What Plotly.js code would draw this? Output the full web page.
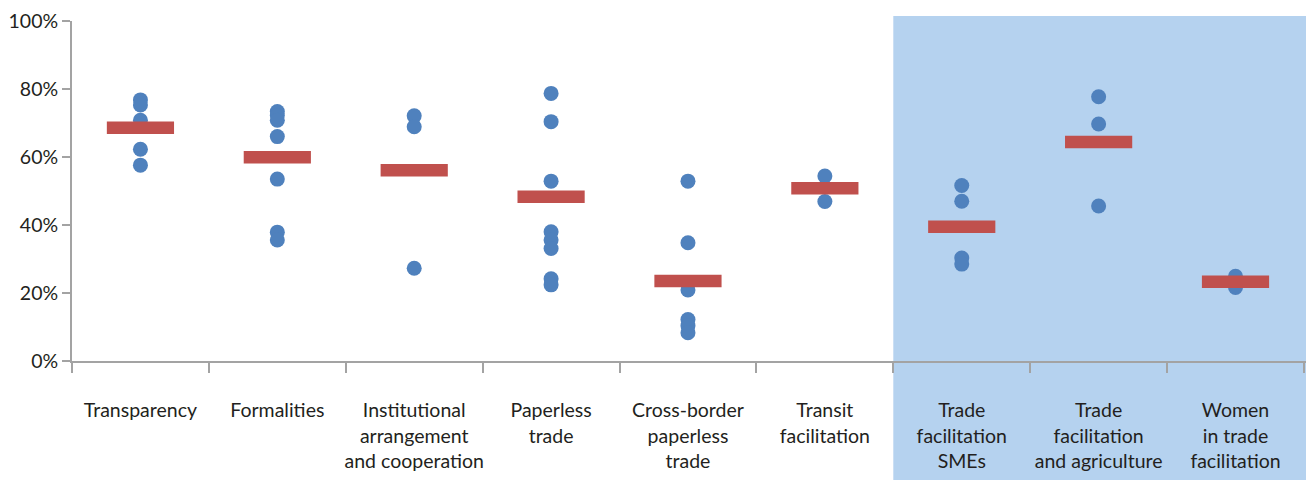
<!DOCTYPE html>
<html>
<head>
<meta charset="utf-8">
<script src="https://cdn.plot.ly/plotly-3.0.1.min.js"></script>
<style>html,body{margin:0;padding:0;background:#fff;}#chart{width:1306px;height:480px;}</style>
</head>
<body>
<div id="chart"></div>
<script>
// Category labels (tick labels)
var categories = [
  "Transparency",
  "Formalities",
  "Institutional<br>arrangement<br>and cooperation",
  "Paperless<br>trade",
  "Cross-border<br>paperless<br>trade",
  "Transit<br>facilitation",
  "Trade<br>facilitation<br>SMEs",
  "Trade<br>facilitation<br>and agriculture",
  "Women<br>in trade<br>facilitation"
];

// Y tick values and labels
var yTickValues = [0, 20, 40, 60, 80, 100];
var yTickLabels = ["0%", "20%", "40%", "60%", "80%", "100%"];

// Individual values (%) per category
var transparency   = [76.8, 75.3, 70.8, 62.3, 57.6];
var formalities    = [73.4, 72.2, 70.8, 66.0, 53.5, 37.9, 35.6];
var institutional  = [72.1, 68.9, 27.3];
var paperless      = [78.7, 70.4, 52.9, 38.0, 35.6, 33.1, 24.2, 22.4];
var crossBorder    = [52.9, 34.8, 20.9, 12.2, 10.4, 8.3];
var transit        = [54.4, 46.9];
var smes           = [51.6, 47.0, 30.3, 28.5];
var agriculture    = [77.7, 69.7, 45.6];
var women          = [24.9, 21.6];

// Average (%) per category (red bars)
var averages = [68.6, 59.9, 56.1, 48.3, 23.5, 50.8, 39.5, 64.4, 23.3];

var series = [transparency, formalities, institutional, paperless, crossBorder, transit, smes, agriculture, women];

var dotX = [], dotY = [];
series.forEach(function (vals, i) {
  vals.forEach(function (v) { dotX.push(categories[i]); dotY.push(v); });
});

var dots = {
  type: 'scatter', mode: 'markers',
  x: dotX, y: dotY,
  marker: { color: '#4f81bd', size: 15, line: { width: 0 } },
  hoverinfo: 'y', showlegend: false
};

var bars = {
  type: 'scatter', mode: 'markers',
  x: categories, y: averages,
  marker: { symbol: 'line-ew', size: 48, color: '#c0504d', line: { color: '#c0504d', width: 12.5 } },
  hoverinfo: 'y', showlegend: false
};

var layout = {
  width: 1306, height: 480,
  margin: { l: 72, r: 0, t: 21, b: 119 },
  paper_bgcolor: '#ffffff',
  plot_bgcolor: 'rgba(0,0,0,0)',
  font: { family: 'Lato, "Open Sans", sans-serif', color: '#231f20', size: 19.5 },
  showlegend: false,
  xaxis: {
    type: 'category',
    categoryorder: 'array', categoryarray: categories,
    range: [-0.5, 8.515],
    showgrid: false, zeroline: false,
    showline: true, linecolor: '#a3a3a3', linewidth: 2,
    ticks: 'outside', tickson: 'boundaries', ticklen: 10, tickwidth: 2, tickcolor: '#a3a3a3',
    tickangle: 0,
    ticklabelstandoff: 31,
    tickfont: { size: 19.5, color: '#231f20' },
    fixedrange: true
  },
  yaxis: {
    range: [0, 100],
    tickmode: 'array',
    tickvals: yTickValues,
    ticktext: yTickLabels,
    showgrid: false, zeroline: false,
    showline: true, linecolor: '#a3a3a3', linewidth: 2,
    ticks: 'outside', ticklen: 8, tickwidth: 2, tickcolor: '#a3a3a3',
    tickfont: { size: 19.5, color: '#231f20' },
    fixedrange: true
  },
  shapes: [{
    type: 'rect', layer: 'below',
    xref: 'x', yref: 'paper',
    x0: 5.5, x1: 8.6, y0: -0.4, y1: 1.0147,
    fillcolor: '#b5d2ef', line: { width: 0 }
  }]
};

Plotly.newPlot('chart', [dots, bars], layout, { displayModeBar: false, staticPlot: true });
</script>
</body>
</html>
